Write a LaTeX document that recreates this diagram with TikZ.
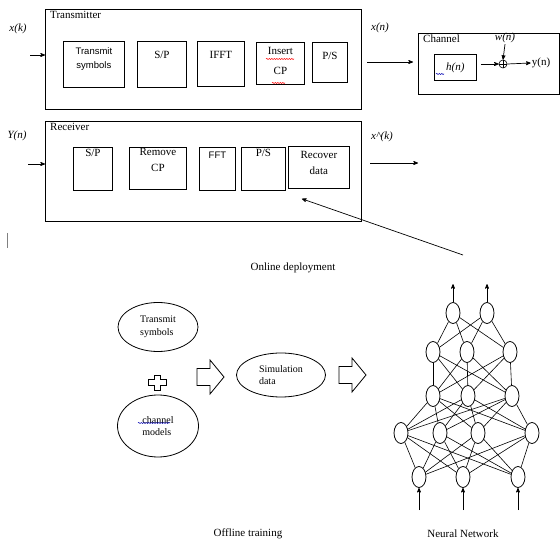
\documentclass[tikz,border=0pt]{standalone}
\usepackage{fontspec}
\setmainfont{Liberation Serif}
\setsansfont{Liberation Sans}
\usetikzlibrary{arrows,shapes,positioning,decorations.pathmorphing}
\tikzset{
	frame/.style={
		rectangle,
		line width=0.9pt,
		draw=black,
		anchor=north west,
		inner sep=0pt
	},
	framelabel/.style={
		anchor=north west,
		xshift=3pt,
		inner sep=2pt,
		font=\fontsize{11}{13}\selectfont
	},
	block/.style={
		rectangle,
		line width=0.8pt,
		draw=black,
		anchor=north west,
		inner sep=0pt
	},
	blocktext/.style={
		anchor=north,
		align=center,
		font=\fontsize{11}{16}\selectfont
	},
	signal/.style={
		font=\fontsize{11}{13}\selectfont\itshape,
		inner sep=1pt
	},
	arrow/.style={
		draw=black,
		line width=0.7pt,
		->,
		>=stealth'
	},
	adder/.style={
		circle,
		line width=0.6pt,
		draw=black,
		minimum size=8pt,
		inner sep=0pt
	},
	oval/.style={
		ellipse,
		line width=0.8pt,
		draw=black,
		inner sep=0pt,
		align=left,
		font=\fontsize{10}{12.5}\selectfont
	},
	neuron/.style={
		ellipse,
		line width=0.8pt,
		draw=black,
		minimum width=14pt,
		minimum height=21pt,
		inner sep=0pt
	},
	synapse/.style={
		draw=black,
		line width=0.6pt
	},
	blockarrow/.pic={
		\draw [line width=0.8pt] (0,-8.5) -- (13,-8.5) -- (13,-17) -- (27,0) -- (13,17) -- (13,8.5) -- (0,8.5) -- cycle;
	},
	caption/.style={
		font=\fontsize{11}{13}\selectfont
	},
	squiggle/.style={
		decorate,
		decoration={snake,amplitude=0.6pt,segment length=2.5pt},
		line width=0.5pt
	},
}

\begin{document}
\begin{tikzpicture}[x=1pt,y=-1pt]
	\useasboundingbox (0,0) rectangle (560,545);

	% transmitter
	\node [frame,minimum width=316pt,minimum height=100pt,label={[framelabel]north west:Transmitter}] (tx) at (45,9) {};
	\node [block,minimum width=61pt,minimum height=46pt,label={[blocktext,yshift=-3.5pt,font=\sffamily\fontsize{9.5}{14}\selectfont]north:Transmit\\symbols}] (tsym) at (63,41) {};
	\node [block,minimum width=49pt,minimum height=46pt,label={[blocktext,yshift=-7pt]north:S/P}] (tsp) at (137,41) {};
	\node [block,minimum width=47pt,minimum height=45pt,label={[blocktext,yshift=-7pt]north:IFFT}] (ifft) at (197,41) {};
	\node [block,minimum width=48pt,minimum height=42pt,label={[blocktext,yshift=-1.5pt,font=\fontsize{11}{20}\selectfont]north:Insert\\CP}] (icp) at (256,42) {};
	\node [block,minimum width=35pt,minimum height=40pt,label={[blocktext,yshift=-7pt]north:P/S}] (tps) at (312,42) {};
	\draw [squiggle,red] (266,59) -- (294,59);
	\draw [squiggle,red] (272,83) -- (285,83);

	\node [signal] (xk) at (18,29) {x(k)};
	\coordinate (xkin) at (30,55);
	\draw [arrow] (xkin) -- (xkin -| tx.west);

	% channel
	\node [frame,minimum width=141pt,minimum height=61pt,label={[framelabel]north west:Channel}] (chan) at (418,33) {};
	\node [block,minimum width=42pt,minimum height=26pt] (hbox) at (434,54) {};
	\node [signal] (hn) at (hbox.center) {h(n)};
	\draw [squiggle,blue!70!black] (436,74) -- (444,74);
	\node [adder] (sum) at (503,64) {};
	\draw [line width=0.6pt] (sum.north) -- (sum.south) (sum.west) -- (sum.east);
	\node [signal] (wn) at (505,38) {w(n)};
	\node [font=\fontsize{11}{13}\selectfont,inner sep=1pt] (yn) at (541,63) {y(n)};
	\draw [arrow] ([xshift=4pt]hbox.east |- sum.west) -- (sum.west);
	\draw [arrow] (wn.south) -- (sum.north);
	\draw [arrow] (sum.east) -- (yn.west);

	\node [signal] (xn) at (380,28) {x(n)};
	\coordinate (xnout) at (367,62);
	\draw [arrow] (xnout) -- ([xshift=-5pt]chan.west |- xnout);

	% receiver
	\node [frame,minimum width=316pt,minimum height=100pt,label={[framelabel]north west:Receiver}] (rx) at (45,121) {};
	\node [block,minimum width=39pt,minimum height=43pt,label={[blocktext,yshift=1pt]north:S/P}] (rsp) at (73,147) {};
	\node [block,minimum width=57pt,minimum height=42pt,label={[blocktext,yshift=2pt]north:Remove\\CP}] (rcp) at (129,147) {};
	\node [block,minimum width=36pt,minimum height=43pt,label={[blocktext,yshift=-1.5pt,font=\sffamily\fontsize{9.5}{14}\selectfont]north:FFT}] (fft) at (199,147) {};
	\node [block,minimum width=44pt,minimum height=43pt,label={[blocktext,yshift=1pt]north:P/S}] (rps) at (241,147) {};
	\node [block,minimum width=61pt,minimum height=42pt,label={[blocktext,yshift=-2pt]north:Recover\\data}] (rec) at (288,146) {};

	\node [signal] (yin) at (17,136) {Y(n)};
	\coordinate (ynin) at (28,164);
	\draw [arrow] (ynin) -- (ynin -| rx.west);

	\node [signal] (xhat) at (382,137) {x\^{}(k)};
	\coordinate (xhs) at (370,163);
	\coordinate (xhe) at (418,163);
	\draw [arrow] (xhs) -- (xhe);

	\coordinate (deploy) at (463,255);
	\draw [arrow] (deploy) -- ([xshift=-17pt,yshift=-10pt]rec.south);

	\draw [line width=0.7pt,gray] (7,233) -- (7,248);
	\node [caption] (online) at (293,268) {Online deployment};

	% offline training
	\node [oval,minimum width=80pt,minimum height=49pt] (tsoval) at (158,327) {Transmit\\symbols};
	\node [oval,minimum width=81pt,minimum height=62pt] (chmod) at (158,426) {channel\\models};
	\draw [squiggle,blue!70!black] (138,423) -- (170,423);
	\draw [line width=0.8pt] (154,375) -- (160,375) -- (160,379.5) -- (166,379.5) -- (166,385.5) -- (160,385.5) -- (160,390) -- (154,390) -- (154,385.5) -- (148,385.5) -- (148,379.5) -- (154,379.5) -- cycle;
	\pic at (197,377) {blockarrow};
	\node [oval,minimum width=89pt,minimum height=44pt] (simd) at (281,375) {Simulation\\data};
	\pic at (339,375) {blockarrow};
	\node [caption] (offline) at (248,534) {Offline training};

	% neural network
	\foreach \x [count=\i] in {453,487}
		\node [neuron] (a\i) at (\x,313) {};
	\foreach \x [count=\i] in {433,467,510}
		\node [neuron] (b\i) at (\x,352) {};
	\foreach \x [count=\i] in {433,468,512}
		\node [neuron] (c\i) at (\x,396) {};
	\foreach \x [count=\i] in {401,440,478,532}
		\node [neuron] (d\i) at (\x,433) {};
	\foreach \x [count=\i] in {419,463,518}
		\node [neuron] (e\i) at (\x,477) {};

	\foreach \i in {1,2}
		\foreach \j in {1,2,3}
			\draw [synapse] (a\i) -- (b\j);
	\foreach \i in {1,2,3}
		\foreach \j in {1,2,3}
			\draw [synapse] (b\i) -- (c\j);
	\foreach \i in {1,2,3}
		\foreach \j in {1,2,3,4}
			\draw [synapse] (c\i) -- (d\j);
	\foreach \i in {1,2,3,4}
		\foreach \j in {1,2,3}
			\draw [synapse] (d\i) -- (e\j);

	\foreach \i in {1,2} {
		\coordinate (out\i) at ([yshift=18pt]a\i.north);
		\draw [arrow] (a\i.north) -- (out\i);
	}
	\foreach \x [count=\i] in {419,463,518} {
		\coordinate (in\i) at (\x,510);
		\draw [arrow] (in\i) -- (e\i.south);
	}
	\node [caption] (nnet) at (463,534) {Neural Network};
\end{tikzpicture}
\end{document}
